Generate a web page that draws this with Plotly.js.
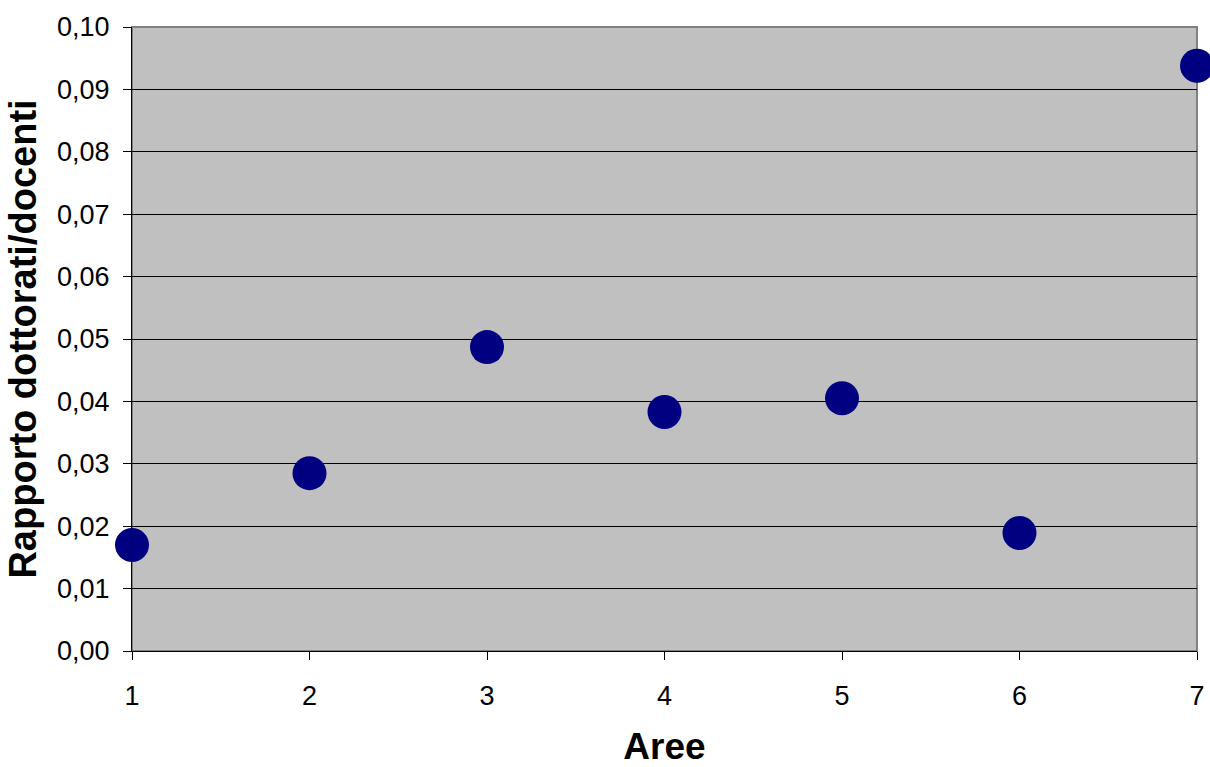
<!DOCTYPE html>
<html>
<head>
<meta charset="utf-8">
<script src="https://cdn.plot.ly/plotly-3.0.1.min.js"></script>
<style>html,body{margin:0;padding:0;background:#fff;}#chart{width:1210px;height:767px;}</style>
</head>
<body>
<div id="chart"></div>
<script>
const aree = [1, 2, 3, 4, 5, 6, 7];
const rapporto = [0.0170, 0.0285, 0.0487, 0.0383, 0.0405, 0.0189, 0.0938];
const xTickLabels = ['1', '2', '3', '4', '5', '6', '7'];

const trace = {
  x: aree,
  y: rapporto,
  type: 'scatter',
  mode: 'markers',
  cliponaxis: false,
  marker: {color: '#000080', size: 34, line: {width: 0}},
  hoverinfo: 'x+y'
};

const FONT = 'Liberation Sans, Arial, sans-serif';

const layout = {
  width: 1210,
  height: 767,
  margin: {l: 132, r: 13, t: 27, b: 116},
  paper_bgcolor: '#ffffff',
  plot_bgcolor: '#C0C0C0',
  separators: ',.',
  showlegend: false,
  font: {family: FONT, color: '#000'},
  xaxis: {
    range: [1, 7],
    tickvals: aree,
    ticktext: xTickLabels,
    ticks: 'outside',
    ticklen: 8,
    tickcolor: '#000',
    ticklabelstandoff: 13,
    showline: true,
    linecolor: '#000',
    linewidth: 1,
    showgrid: false,
    zeroline: false,
    tickfont: {size: 27, family: FONT},
    title: {text: 'Aree', font: {size: 37, family: FONT, weight: 'bold'}, standoff: 33}
  },
  yaxis: {
    range: [0, 0.1],
    dtick: 0.01,
    tickformat: '.2f',
    ticks: 'outside',
    ticklen: 8,
    tickcolor: '#000',
    ticklabelstandoff: 8,
    showline: true,
    linecolor: '#000',
    linewidth: 1,
    showgrid: true,
    gridcolor: '#000',
    gridwidth: 1,
    zeroline: false,
    tickfont: {size: 27, family: FONT},
    title: {text: 'Rapporto dottorati/docenti', font: {size: 38, family: FONT, weight: 'bold'}, standoff: 8}
  },
  shapes: [{
    type: 'rect', xref: 'paper', yref: 'paper', x0: 0, x1: 1, y0: 0, y1: 1,
    line: {color: '#808080', width: 2}, layer: 'below'
  }]
};

Plotly.newPlot('chart', [trace], layout, {displayModeBar: false, staticPlot: true});
</script>
</body>
</html>
